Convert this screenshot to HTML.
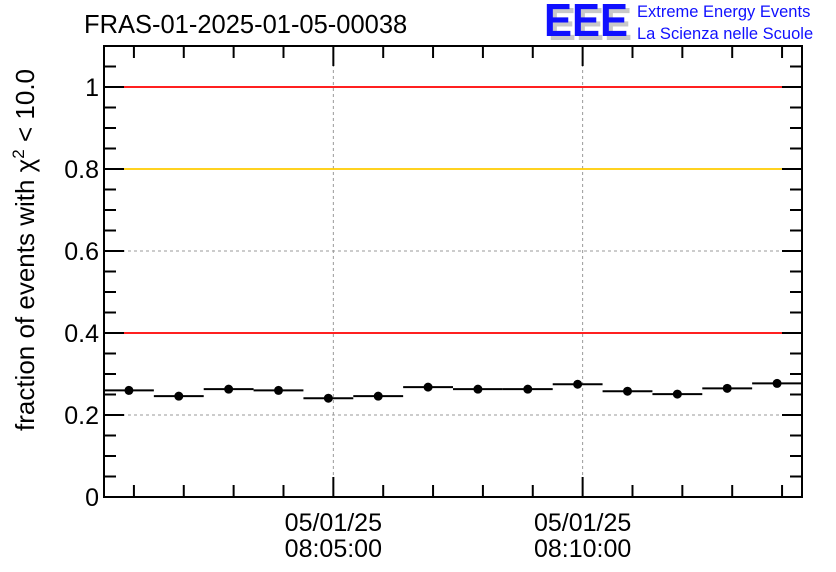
<!DOCTYPE html>
<html><head><meta charset="utf-8"><style>
body{margin:0;background:#fff;}
svg{display:block;font-family:"Liberation Sans",sans-serif;}
</style></head><body>
<svg id="c" width="836" height="572" viewBox="0 0 836 572" xmlns="http://www.w3.org/2000/svg">
<text x="84" y="33" font-size="25.5">FRAS-01-2025-01-05-00038</text>
<g>
<text x="548" y="40" font-size="46" font-weight="bold" fill="#c8c8c8" textLength="84" lengthAdjust="spacingAndGlyphs">EEE</text>
<text x="544" y="36" font-size="46" font-weight="bold" fill="#1010ff" textLength="84" lengthAdjust="spacingAndGlyphs">EEE</text>
<text x="637" y="17" font-size="16.5" fill="#1010ff">Extreme Energy Events</text>
<text x="637" y="39" font-size="16.5" fill="#1010ff">La Scienza nelle Scuole</text>
</g>
<text transform="translate(34,250) rotate(-90)" text-anchor="middle" font-size="26">fraction of events with χ<tspan dy="-10" font-size="17">2</tspan><tspan dy="10"> &lt; 10.0</tspan></text>
<g id="plot"></g>
</svg>
<script>
const yTickValues=[0,0.2,0.4,0.6,0.8,1];
const yTickLabels=["0","0.2","0.4","0.6","0.8","1"];
const xTickSeconds=[300,600];
const xTickLabels=[["05/01/25","08:05:00"],["05/01/25","08:10:00"]];
const refLines=[1.0,0.8,0.4];
const refColors=["#ff0000","#ffcc00","#ff0000"];
const binStartSec=[24,84,144,204,264,324,384,444,504,564,624,684,744,804];
const values=[0.260,0.246,0.263,0.260,0.241,0.246,0.268,0.263,0.263,0.275,0.258,0.251,0.265,0.277];
const binWidthSec=60;
const L=104,R=802,T=46,B=497,xMin=24,xMax=864,yMin=0,yMax=1.1;
const X=s=>L+(s-xMin)/(xMax-xMin)*(R-L);
const Y=v=>B-(v-yMin)/(yMax-yMin)*(B-T);
const NS="http://www.w3.org/2000/svg";
const g=document.getElementById('plot');
function mk(tag,attrs,parent){const e=document.createElementNS(NS,tag);for(const k in attrs)e.setAttribute(k,attrs[k]);(parent||g).appendChild(e);return e;}
yTickValues.forEach(v=>{if(v>0&&v<1){const l=mk('line',{x1:L,x2:R,y1:Y(v),y2:Y(v),stroke:'#999','stroke-dasharray':'3,3'});

}});
xTickSeconds.forEach(s=>{const l=mk('line',{x1:X(s),x2:X(s),y1:T,y2:B,stroke:'#999','stroke-dasharray':'3,3'});

});
refLines.forEach((v,i)=>{const l=mk('line',{x1:L,x2:R,y1:Y(v),y2:Y(v),stroke:refColors[i],'stroke-width':1.8});

});
for(let i=0;i<=22;i++){const v=i*0.05;const y=Y(v);const len=(i%4===0)?20:12;
const a=mk('line',{x1:L,x2:L+len,y1:y,y2:y,stroke:'#000','stroke-width':2});


const b=mk('line',{x1:R,x2:R-len,y1:y,y2:y,stroke:'#000','stroke-width':2});

}
for(let s=60;s<xMax;s+=60){if(s<=xMin)continue;const x=X(s);const len=(s%300===0)?20:12;
const a=mk('line',{x1:x,x2:x,y1:B,y2:B-len,stroke:'#000','stroke-width':2});


const b=mk('line',{x1:x,x2:x,y1:T,y2:T+len,stroke:'#000','stroke-width':2});

}
yTickValues.forEach((v,i)=>{const t=mk('text',{x:L-5,y:Y(v)+9,'text-anchor':'end','font-size':25});t.textContent=yTickLabels[i];

});
xTickSeconds.forEach((s,i)=>{xTickLabels[i].forEach((ln,j)=>{const t=mk('text',{x:X(s),y:531+j*26,'text-anchor':'middle','font-size':25});t.textContent=ln;

});});
values.forEach((v,i)=>{const x0=X(binStartSec[i]),x1=X(binStartSec[i]+binWidthSec),y=Y(v);
const l=mk('line',{x1:x0,x2:x1,y1:y,y2:y,stroke:'#000','stroke-width':2});


const c=mk('circle',{cx:(x0+x1)/2,cy:y,r:4.5,fill:'#000'});

});
const f=mk('rect',{x:L,y:T,width:R-L,height:B-T,fill:'none',stroke:'#000','stroke-width':2});


</script>
</body></html>
